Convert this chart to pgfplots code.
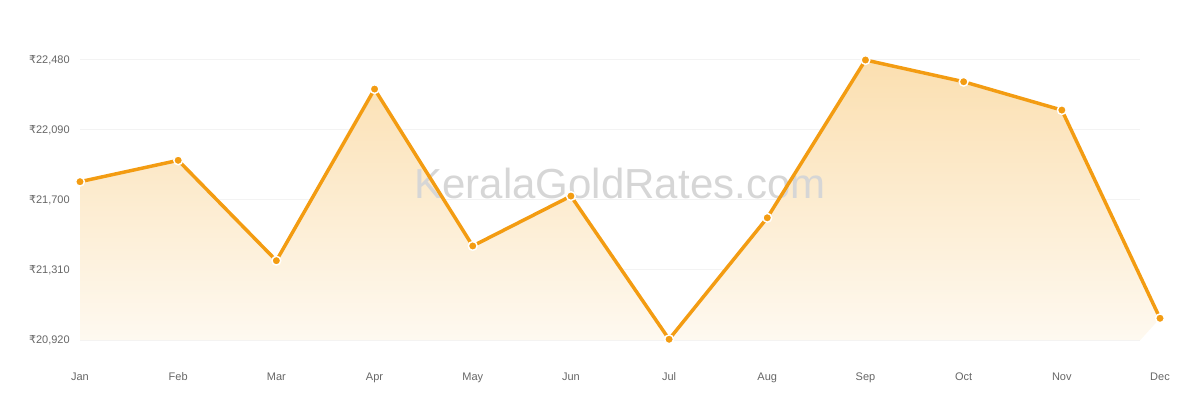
\documentclass[border=0pt]{standalone}
\usepackage{pgfplots}
\pgfplotsset{compat=1.18}
\usepackage{fontspec}
\setmainfont{Liberation Sans}
\newfontfamily\rupeefont{DejaVu Sans}
\newcommand{\rs}{{\rupeefont ₹}}

\definecolor{gold}{HTML}{F39C12}
\definecolor{filltop}{HTML}{FBDFB0}
\definecolor{fillbot}{HTML}{FEF9F0}
\definecolor{gridc}{HTML}{F3F3F3}
\definecolor{labc}{HTML}{666666}

\begin{document}
\begin{tikzpicture}
    % page is 1200x400 px, 1 px = 0.75bp
    \path (0,0) rectangle (900bp,300bp);

    \begin{axis}[
        at={(60bp,45bp)},
        anchor=south west,
        scale only axis,
        width=810bp,
        height=210bp,
        xmin=0, xmax=11,
        ymin=20920, ymax=22480,
        axis line style={draw=none},
        tick style={draw=none},
        scaled y ticks=false,
        clip=false,
        xtick={0,...,11},
        xticklabels={Jan,Feb,Mar,Apr,May,Jun,Jul,Aug,Sep,Oct,Nov,Dec},
        ytick={20920,21310,21700,22090,22480},
        yticklabels={{\rs20,920},{\rs21,310},{\rs21,700},{\rs22,090},{\rs22,480}},
        major tick length=0pt,
        tick label style={font=\fontsize{8.25bp}{10bp}\selectfont, text=labc, inner sep=0pt},
        yticklabel style={anchor=east, xshift=-7.5bp},
        xticklabel style={anchor=base, yshift=-30bp},
    ]

    % horizontal grid lines, stopping short of the last month
    \foreach \g in {20920,21310,21700,22090,22480} {
        \edef\tmp{\noexpand\draw[gridc, line width=0.75bp]
            (axis cs:0,\g) -- (axis cs:10.8,\g);}
        \tmp
    }

    % gradient area under the line
    \addplot[draw=none, top color=filltop, bottom color=fillbot] coordinates {
        (0,21802) (1,21921) (2,21362) (3,22318) (4,21444) (5,21722)
        (6,20924) (7,21601) (8,22480) (9,22359) (10,22201) (11,21041)
        (10.8,20920) (0,20920)
    } -- cycle;

    % watermark
    \node[text=black!16, font=\fontsize{31.5bp}{36bp}\selectfont]
        at (axis cs:5.5,21790) {KeralaGoldRates.com};

    \addplot[
        gold, line width=2.6bp,
        mark=*, mark size=3.3bp,
        mark options={fill=gold, draw=white, line width=1.1bp},
    ] coordinates {
        (0,21802) (1,21921) (2,21362) (3,22318) (4,21444) (5,21722)
        (6,20924) (7,21601) (8,22480) (9,22359) (10,22201) (11,21041)
    };

    \end{axis}
\end{tikzpicture}
\end{document}
